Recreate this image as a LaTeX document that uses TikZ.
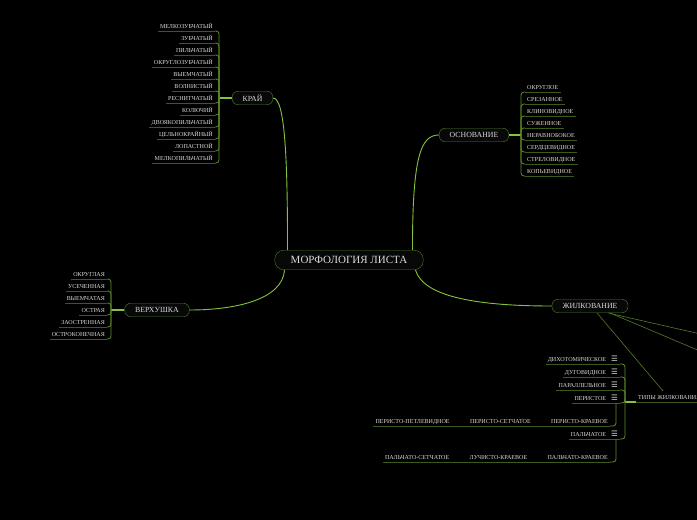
\documentclass[tikz,border=0pt]{standalone}
\usepackage{fontspec}
\setmainfont{Liberation Serif}
\newfontfamily\symfont{DejaVu Sans}
\usetikzlibrary{positioning,calc,arrows.meta}
\definecolor{txt}{HTML}{DADADA}
\definecolor{boxline}{HTML}{4E7A28}
\definecolor{boxfill}{HTML}{080808}
\definecolor{brightgreen}{HTML}{86C23F}
\definecolor{midgreen}{HTML}{5F8F2C}
\definecolor{darkgreen}{HTML}{3C5A1E}
\definecolor{relgreen}{HTML}{557A2A}
\newcommand\trigram{\hspace{5pt}{\symfont\fontsize{7.5}{6}\selectfont ☰}}

\begin{document}
\begin{tikzpicture}[x=1pt,y=-1pt,
    topic/.style={draw=boxline,fill=boxfill,text=txt,rounded corners=6pt,
        minimum height=13.5pt,inner xsep=10.5pt,font=\fontsize{7.8}{8}\selectfont},
    rootbox/.style={topic,minimum height=19.5pt,rounded corners=9pt,inner xsep=16pt,
        font=\fontsize{11}{12}\selectfont},
    leaf/.style={text=txt,inner xsep=2pt,inner ysep=2pt,text height=4pt,text depth=0pt,
        font=\fontsize{6.05}{6}\selectfont},
    uline/.style={darkgreen,line width=.8pt},
    conn/.style={midgreen,line width=.8pt,rounded corners=3pt},
    stub/.style={brightgreen,line width=2pt},
    limb/.style={brightgreen,line width=.9pt},
    rel/.style={relgreen,line width=.6pt}]
    \useasboundingbox[fill=black] (0,0) rectangle (697,520);
    \clip (0,0) rectangle (697,520);

    \node[rootbox] (root) at (349,260) {МОРФОЛОГИЯ ЛИСТА};
    \node[topic] (kraj) at (252.5,98) {КРАЙ};
    \node[topic] (osn) at (474,135) {ОСНОВАНИЕ};
    \node[topic] (verh) at (157,310) {ВЕРХУШКА};
    \node[topic] (zhil) at (590,306) {ЖИЛКОВАНИЕ};

    \draw[limb] ($(root.north west)+(13,0)$) .. controls +(0,-90) and +(12,0) .. (kraj.east);
    \draw[limb] ($(root.north east)+(-11,0)$) .. controls +(0,-95) and +(-18,0) .. (osn.west);
    \draw[limb] ($(root.south west)+(10,0)$) .. controls +(-2,30) and +(45,0) .. (verh.east);
    \draw[limb] ($(root.south east)+(-8,0)$) .. controls +(8,28) and +(-70,0) .. (zhil.west);

    \coordinate (kbr) at (219,98);
    \draw[stub] (kraj.west) -- (kbr);
    \foreach \t [count=\i] in {МЕЛКОЗУБЧАТЫЙ,ЗУБЧАТЫЙ,ПИЛЬЧАТЫЙ,ОКРУГЛОЗУБЧАТЫЙ,
        ВЫЕМЧАТЫЙ,ВОЛНИСТЫЙ,РЕСНИТЧАТЫЙ,КОЛЮЧИЙ,ДВОЯКОПИЛЬЧАТЫЙ,ЦЕЛЬНОКРАЙНЫЙ,
        ЛОПАСТНОЙ,МЕЛКОПИЛЬЧАТЫЙ} {
        \node[leaf,anchor=south east] (k\i) at (215,{31+12*(\i-1)}) {\t};
        \draw[uline] (k\i.south west) -- (k\i.south east);
        \draw[conn] (kbr) |- (k\i.south east);
    }

    \coordinate (obr) at (521,135);
    \draw[stub] (osn.east) -- (obr);
    \foreach \t [count=\i] in {ОКРУГЛОЕ,СРЕЗАННОЕ,КЛИНОВИДНОЕ,СУЖЕННОЕ,НЕРАВНОБОКОЕ,
        СЕРДЦЕВИДНОЕ,СТРЕЛОВИДНОЕ,КОПЬЕВИДНОЕ} {
        \node[leaf,anchor=south west] (o\i) at (525,{92+12*(\i-1)}) {\t};
        \draw[uline] (o\i.south west) -- (o\i.south east);
        \draw[conn] (obr) |- (o\i.south west);
    }

    \coordinate (vbr) at (111,310);
    \draw[stub] (verh.west) -- (vbr);
    \foreach \t [count=\i] in {ОКРУГЛАЯ,УСЕЧЕННАЯ,ВЫЕМЧАТАЯ,ОСТРАЯ,ЗАОСТРЕННАЯ,
        ОСТРОКОНЕЧНАЯ} {
        \node[leaf,anchor=south east] (v\i) at (107,{279+12*(\i-1)}) {\t};
        \draw[uline] (v\i.south west) -- (v\i.south east);
        \draw[conn] (vbr) |- (v\i.south east);
    }

    \coordinate (relA) at (740,343);
    \coordinate (relB) at (740,368);
    \coordinate (reltip) at (663,391);
    \draw[rel] ($(zhil.south)+(18,0)$) -- (relA);
    \draw[rel] ($(zhil.south)+(20,0)$) -- (relB);
    \draw[rel,-{Circle[length=1.6pt]}] ($(zhil.south)+(7,0)$) -- (reltip);

    \coordinate (tbr) at (625,402);
    \node[leaf,anchor=south west] (tipy) at (636,402) {ТИПЫ ЖИЛКОВАНИЯ};
    \draw[uline] (tipy.south west) -- (tipy.south east);
    \draw[stub] (tbr) -- (tipy.south west);
    \foreach \t [count=\i] in {ДИХОТОМИЧЕСКОЕ,ДУГОВИДНОЕ,ПАРАЛЛЕЛЬНОЕ,ПЕРИСТОЕ}
        \node[leaf,anchor=south east] (t\i) at (620,{364+13*(\i-1)}) {\t\trigram};
    \node[leaf,anchor=south east] (t5) at (620,439) {ПАЛЬЧАТОЕ\trigram};
    \foreach \i in {1,...,5} {
        \draw[uline] (t\i.south west) -- (t\i.south east);
        \draw[conn] (tbr) |- (t\i.south east);
    }

    \node[leaf,anchor=south east] (pr3) at (610,426) {ПЕРИСТО-КРАЕВОЕ};
    \node[leaf,left=16pt of pr3] (pr2) {ПЕРИСТО-СЕТЧАТОЕ};
    \node[leaf,left=16pt of pr2] (pr1) {ПЕРИСТО-ПЕТЛЕВИДНОЕ};
    \draw[uline] (pr1.south west) -- (pr3.south east);
    \draw[conn] ($(t4.south east)+(-4,0)$) |- (pr3.south east);

    \node[leaf,anchor=south east] (pa3) at (610,462) {ПАЛЬЧАТО-КРАЕВОЕ};
    \node[leaf,left=16pt of pa3] (pa2) {ЛУЧИСТО-КРАЕВОЕ};
    \node[leaf,left=16pt of pa2] (pa1) {ПАЛЬЧАТО-СЕТЧАТОЕ};
    \draw[uline] (pa1.south west) -- (pa3.south east);
    \draw[conn] ($(t5.south east)+(-4,0)$) |- (pa3.south east);
\end{tikzpicture}
\end{document}
